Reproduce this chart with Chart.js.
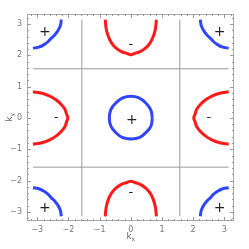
<!DOCTYPE html>
<html>
<head>
<meta charset="utf-8">
<script src="https://cdn.jsdelivr.net/npm/chart.js@4"></script>
<style>
  html, body { margin: 0; padding: 0; background: #fff; }
  #wrap { width: 249px; height: 249px; }
</style>
</head>
<body>
<div id="wrap"><canvas id="fermi"></canvas></div>
<script>
// tick labels on both axes
const tickValues = [-3, -2, -1, 0, 1, 2, 3];

// blue pocket around the origin
const centerBlue = [[0.69,0],[0.64,0.26],[0.48,0.48],[0.26,0.64],[0,0.69],[-0.26,0.64],[-0.47,0.49],[-0.64,0.27],[-0.69,0],[-0.64,-0.26],[-0.48,-0.47],[-0.26,-0.63],[0,-0.67],[0.27,-0.63],[0.5,-0.45],[0.65,-0.25],[0.69,0]];

// blue arcs in the four corners
const blueTL = [[-3.14,2.23],[-2.95,2.26],[-2.77,2.35],[-2.64,2.45],[-2.55,2.55],[-2.45,2.64],[-2.35,2.77],[-2.26,2.95],[-2.23,3.14]];
const blueTR = [[3.14,2.23],[2.95,2.26],[2.77,2.35],[2.64,2.45],[2.55,2.55],[2.45,2.64],[2.35,2.77],[2.26,2.95],[2.23,3.14]];
const blueBL = [[-3.14,-2.23],[-2.95,-2.26],[-2.77,-2.35],[-2.64,-2.45],[-2.55,-2.55],[-2.45,-2.64],[-2.35,-2.77],[-2.26,-2.95],[-2.23,-3.14]];
const blueBR = [[3.14,-2.23],[2.95,-2.26],[2.77,-2.35],[2.64,-2.45],[2.55,-2.55],[2.45,-2.64],[2.35,-2.77],[2.26,-2.95],[2.23,-3.14]];

// red arcs on the four edges
const redTop = [[-0.82,3.14],[-0.79,2.85],[-0.72,2.6],[-0.62,2.4],[-0.48,2.24],[-0.3,2.12],[-0.12,2.06],[0,2.02],[0.12,2.06],[0.3,2.12],[0.48,2.24],[0.62,2.4],[0.72,2.6],[0.79,2.85],[0.82,3.14]];
const redBottom = [[-0.82,-3.14],[-0.79,-2.85],[-0.72,-2.6],[-0.62,-2.4],[-0.48,-2.24],[-0.3,-2.12],[-0.12,-2.06],[0,-2.02],[0.12,-2.06],[0.3,-2.12],[0.48,-2.24],[0.62,-2.4],[0.72,-2.6],[0.79,-2.85],[0.82,-3.14]];
const redLeft = [[-3.14,0.84],[-2.85,0.79],[-2.6,0.7],[-2.4,0.58],[-2.24,0.44],[-2.12,0.29],[-2.06,0.12],[-2.02,0],[-2.06,-0.12],[-2.12,-0.29],[-2.24,-0.44],[-2.4,-0.58],[-2.6,-0.7],[-2.85,-0.79],[-3.14,-0.84]];
const redRight = [[3.14,0.84],[2.85,0.79],[2.6,0.7],[2.4,0.58],[2.24,0.44],[2.12,0.29],[2.06,0.12],[2.02,0],[2.06,-0.12],[2.12,-0.29],[2.24,-0.44],[2.4,-0.58],[2.6,-0.7],[2.85,-0.79],[3.14,-0.84]];

// gray guide lines at +-pi/2
const guideV1 = [[-1.571,-3.14],[-1.571,3.14]];
const guideV2 = [[1.571,-3.14],[1.571,3.14]];
const guideH1 = [[-3.14,1.571],[3.14,1.571]];
const guideH2 = [[-3.14,-1.571],[3.14,-1.571]];

// sign labels inside the plot
const signText = ['+', '+', '+', '+', '+', '-', '-', '-', '-'];
const signX = [-2.76, 2.85, -2.76, 2.85, 0.03, 0, -2.4, 2.5, 0];
const signY = [2.72, 2.72, -2.88, -2.88, -0.07, 2.33, 0, 0, -2.38];

const RED = '#ff1a1a';
const BLUE = '#2f45ff';

function toPts(arr) { return arr.map(p => ({ x: p[0], y: p[1] })); }
function curve(arr, color, width, tension) {
    return {
        data: toPts(arr),
        showLine: true,
        borderColor: color,
        borderWidth: width,
        pointRadius: 0,
        tension: tension,
        fill: false
    };
}

const decor = {
    id: 'decor',
    beforeDatasetsDraw(chart) {
        const { ctx, chartArea: a, scales } = chart;
        ctx.save();
        ctx.strokeStyle = '#a8a8a8';
        ctx.lineWidth = 1;
        ctx.strokeRect(a.left + 0.5, a.top + 0.5, a.right - a.left - 1, a.bottom - a.top - 1);
        // inward frame ticks
        ctx.strokeStyle = '#9a9a9a';
        ctx.beginPath();
        for (let i = -16; i <= 16; i++) {
            const v = i / 5;
            const len = (i % 5 === 0) ? 4 : 2;
            const px = Math.round(scales.x.getPixelForValue(v)) + 0.5;
            ctx.moveTo(px, a.bottom); ctx.lineTo(px, a.bottom - len);
            ctx.moveTo(px, a.top); ctx.lineTo(px, a.top + len);
            const py = Math.round(scales.y.getPixelForValue(v)) + 0.5;
            ctx.moveTo(a.left, py); ctx.lineTo(a.left + len, py);
            ctx.moveTo(a.right, py); ctx.lineTo(a.right - len, py);
        }
        ctx.stroke();
        ctx.restore();
    },
    afterDatasetsDraw(chart) {
        const { ctx, chartArea: a, scales } = chart;
        ctx.save();
        ctx.fillStyle = '#222';
        ctx.textAlign = 'center';
        ctx.textBaseline = 'middle';
        for (let i = 0; i < signText.length; i++) {
            ctx.font = signText[i] === '+' ? '14px "DejaVu Sans"' : '13px "DejaVu Sans"';
            ctx.fillText(signText[i], scales.x.getPixelForValue(signX[i]), scales.y.getPixelForValue(signY[i]));
        }
        // axis titles k_x and k_y
        ctx.fillStyle = '#666';
        ctx.textAlign = 'left';
        ctx.textBaseline = 'alphabetic';
        const cx = (a.left + a.right) / 2;
        ctx.font = '9px "DejaVu Sans"';
        ctx.fillText('k', cx - 4, 239);
        ctx.font = '6px "DejaVu Sans"';
        ctx.fillText('x', cx + 1, 241);
        const cy = (a.top + a.bottom) / 2;
        ctx.translate(12, cy + 4);
        ctx.rotate(-Math.PI / 2);
        ctx.font = '9px "DejaVu Sans"';
        ctx.fillText('k', 0, 0);
        ctx.font = '6px "DejaVu Sans"';
        ctx.fillText('y', 5, 2);
        ctx.restore();
    }
};

new Chart(document.getElementById('fermi'), {
    type: 'scatter',
    data: {
        datasets: [
            curve(guideV1, '#9a9a9a', 1, 0),
            curve(guideV2, '#9a9a9a', 1, 0),
            curve(guideH1, '#9a9a9a', 1, 0),
            curve(guideH2, '#9a9a9a', 1, 0),
            curve(centerBlue, BLUE, 3, 0.4),
            curve(blueTL, BLUE, 3, 0.4),
            curve(blueTR, BLUE, 3, 0.4),
            curve(blueBL, BLUE, 3, 0.4),
            curve(blueBR, BLUE, 3, 0.4),
            curve(redTop, RED, 3, 0.35),
            curve(redBottom, RED, 3, 0.35),
            curve(redLeft, RED, 3, 0.35),
            curve(redRight, RED, 3, 0.35)
        ]
    },
    options: {
        responsive: true,
        maintainAspectRatio: false,
        animation: false,
        layout: { padding: { left: 0, right: 15, top: 14, bottom: 0 } },
        plugins: { legend: { display: false }, tooltip: { enabled: false } },
        scales: {
            x: {
                type: 'linear',
                min: -3.33,
                max: 3.31,
                afterBuildTicks: s => { s.ticks = tickValues.map(v => ({ value: v })); },
                afterFit: s => { s.height = 28; },
                grid: { display: false, drawTicks: false },
                border: { display: false },
                ticks: {
                    color: '#777',
                    font: { size: 8, family: 'DejaVu Sans' },
                    padding: 4,
                    maxRotation: 0,
                    callback: v => String(v).replace('-', '\u2212')
                }
            },
            y: {
                type: 'linear',
                min: -3.29,
                max: 3.32,
                afterBuildTicks: s => { s.ticks = tickValues.map(v => ({ value: v })); },
                afterFit: s => { s.width = 27; },
                grid: { display: false, drawTicks: false },
                border: { display: false },
                ticks: {
                    color: '#777',
                    font: { size: 8, family: 'DejaVu Sans' },
                    padding: 5,
                    callback: v => String(v).replace('-', '\u2212')
                }
            }
        }
    },
    plugins: [decor]
});
</script>
</body>
</html>
